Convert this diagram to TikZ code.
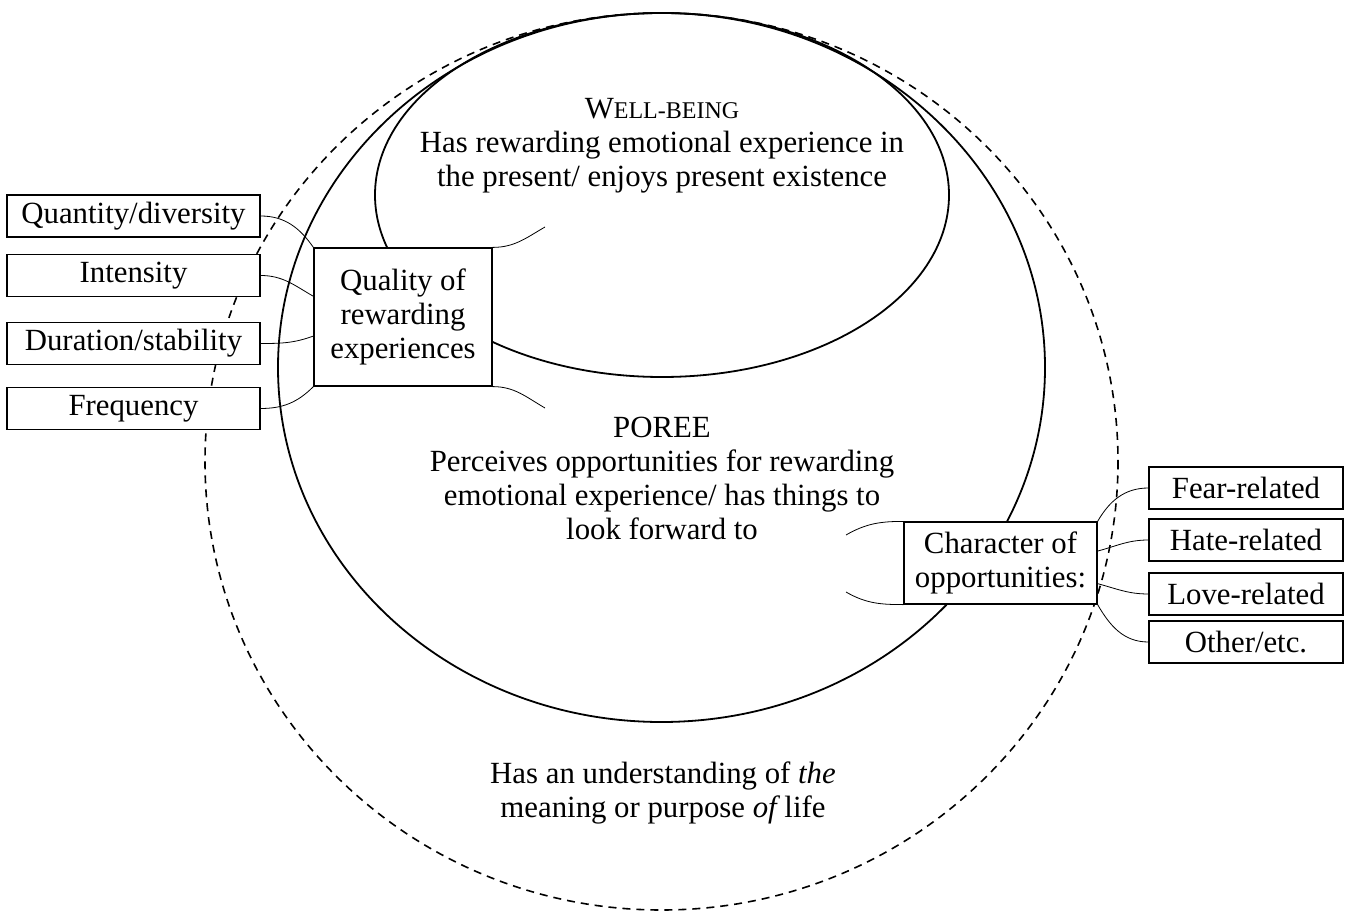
\documentclass[tikz,border=0pt]{standalone}
\usepackage{fontspec}
\setmainfont{Liberation Serif}
\usetikzlibrary{positioning}

\newcommand{\diagfont}{\fontsize{15.4pt}{17pt}\selectfont}

\begin{document}
\begin{tikzpicture}[x=0.5pt,y=-0.5pt,
		every node/.style={font=\diagfont},
		oval/.style={line width=0.9pt},
		outer/.style={line width=0.8pt,dash pattern=on 4pt off 3pt},
		itembox/.style={draw,fill=white,line width=0.6pt,minimum height=21pt,inner sep=0pt},
		leftbox/.style={itembox,minimum width=126.5pt},
		rightbox/.style={itembox,minimum width=97pt},
		hub/.style={draw,fill=white,line width=0.6pt,align=center,inner sep=0pt},
		ovaltext/.style={align=center},
		link/.style={line width=0.4pt}]
	\useasboundingbox (0,0) rectangle (1348,914);
	% the three regions
	\draw[outer] (661.5,461.5) ellipse (456.5 and 448.5);
	\draw[oval] (661.5,367.5) ellipse (383.5 and 354.5);
	\draw[oval] (662,195) ellipse (287 and 182);
	\node[ovaltext] (wbtext) at (662,146) {W{\fontsize{12pt}{17pt}\selectfont ELL-BEING}\\Has rewarding emotional experience in\\the present/ enjoys present existence};
	\node[ovaltext] (poreetext) at (662,478) {POREE\\Perceives opportunities for rewarding\\emotional experience/ has things to\\look forward to};
	\node[ovaltext] (meaning) at (663,793) {Has an understanding of {\itshape the}\\meaning or purpose {\itshape of} life};
	% quality of rewarding experiences
	\node[hub,minimum width=89pt,minimum height=69pt] (quality) at (403,317) {Quality of\\rewarding\\experiences};
	\node[leftbox] (quantity) at (133.5,216) {Quantity/diversity};
	\node[leftbox] (intensity) at (133.5,275.5) {Intensity};
	\node[leftbox] (duration) at (133.5,343.5) {Duration/stability};
	\node[leftbox] (frequency) at (133.5,408.5) {Frequency};
	\draw[link] (quantity.east) to[out=0,in=125] (quality.north west);
	\draw[link] (intensity.east) to[out=0,in=150] (quality.167);
	\draw[link] (duration.east) to[out=0,in=200] (quality.192);
	\draw[link] (frequency.east) to[out=0,in=225] (quality.south west);
	\coordinate (wbend) at (545,227);
	\coordinate (poreeend) at (545,408);
	\draw[link] (quality.north east) to[out=0,in=210] (wbend);
	\draw[link] (quality.south east) to[out=0,in=150] (poreeend);
	% character of opportunities
	\node[hub,minimum width=96.5pt,minimum height=41pt] (character) at (1000.5,563) {Character of\\opportunities:};
	\node[rightbox] (fear) at (1246,488) {Fear-related};
	\node[rightbox] (hate) at (1246,540) {Hate-related};
	\node[rightbox] (love) at (1246,594) {Love-related};
	\node[rightbox] (other) at (1246,642) {Other/etc.};
	\draw[link] (character.north east) to[out=60,in=180] (fear.west);
	\draw[link] (character.7) to[out=15,in=180] (hate.west);
	\draw[link] (character.-12) to[out=-15,in=180] (love.west);
	\draw[link] (character.south east) to[out=-60,in=180] (other.west);
	\coordinate (poreeup) at (846,535);
	\coordinate (poreedown) at (846,592);
	\draw[link] (character.north west) to[out=180,in=30] (poreeup);
	\draw[link] (character.south west) to[out=180,in=-30] (poreedown);
\end{tikzpicture}
\end{document}
